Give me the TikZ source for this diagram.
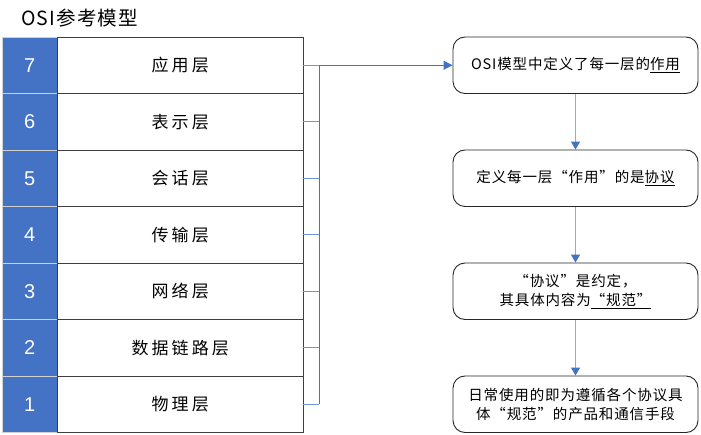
\documentclass[tikz,border=0pt]{standalone}
\usepackage{fontspec}
\setmainfont{Liberation Sans}
\newfontfamily\cjk[LetterSpace=6]{Noto Sans CJK SC}
\newfontfamily\cjkwide[LetterSpace=18]{Noto Sans CJK SC}
\newfontfamily\cjkmid[LetterSpace=6]{Noto Sans CJK SC}
\usetikzlibrary{arrows.meta}
\definecolor{osiblue}{HTML}{4472C4}
\definecolor{lightblue}{HTML}{8FAADC}
\definecolor{stubblue}{HTML}{7096D6}
\definecolor{boxgray}{HTML}{3F3F3F}
\tikzset{
  numbox/.style={minimum width=55.5pt, minimum height=56.5pt, inner sep=0pt, fill=osiblue, draw=gray!35, line width=0.8pt, text=white, font=\fontsize{20}{20}\selectfont},
  layerbox/.style={minimum width=245.5pt, minimum height=56.5pt, inner sep=0pt, draw=boxgray, line width=0.9pt, font=\cjkwide\fontsize{17}{17}\selectfont},
  notebox/.style={minimum width=245pt, minimum height=56.5pt, inner sep=0pt, draw=black!85, line width=0.9pt, rounded corners=12pt, align=center, font=\cjkmid\fontsize{14.5}{19}\selectfont},
  bus/.style={draw=osiblue, line width=0.9pt},
  stub/.style={draw=stubblue, line width=0.8pt},
  downarrow/.style={draw=lightblue, line width=1.2pt, -{Triangle[length=8pt,width=9pt,color=osiblue]}},
  mainarrow/.style={draw=osiblue, line width=0.9pt, -{Triangle[length=9pt,width=9pt]}}
}
\begin{document}
\begin{tikzpicture}[x=1pt,y=-1pt]
\useasboundingbox (0,0) rectangle (701,435);
\node[anchor=west, inner sep=0pt, font=\cjk\fontsize{19.5}{20}\selectfont] (title) at (21,18) {OSI参考模型};
% rows
\node[numbox] (n7) at (29.75,65.25) {7};
\node[numbox] (n6) at (29.75,121.75) {6};
\node[numbox] (n5) at (29.75,178.25) {5};
\node[numbox] (n4) at (29.75,234.75) {4};
\node[numbox] (n3) at (29.75,291.25) {3};
\node[numbox] (n2) at (29.75,347.75) {2};
\node[numbox] (n1) at (29.75,404.25) {1};
\node[layerbox] (l7) at (180.25,65.25) {应用层};
\node[layerbox] (l6) at (180.25,121.75) {表示层};
\node[layerbox] (l5) at (180.25,178.25) {会话层};
\node[layerbox] (l4) at (180.25,234.75) {传输层};
\node[layerbox] (l3) at (180.25,291.25) {网络层};
\node[layerbox] (l2) at (180.25,347.75) {数据链路层};
\node[layerbox] (l1) at (180.25,404.25) {物理层};
% right notes
\node[notebox] (r1) at (575.5,65.25) {OSI模型中定义了每一层的\underline{作用}};
\node[notebox] (r2) at (575.5,178.25) {定义每一层“作用”的是\underline{协议}};
\node[notebox] (r3) at (575.5,291.25) {“协议”是约定，\\其具体内容为\underline{“规范”}};
\node[notebox] (r4) at (575.5,404.25) {日常使用的即为遵循各个协议具\\体“规范”的产品和通信手段};
% bus
\coordinate (b7) at (319,65.25);
\coordinate (b1) at (319,404.25);
\foreach \k in {7,6,5,4,3,2,1} {\draw[stub] (l\k.east) -- (l\k.east -| b7);}
\draw[bus] (b7) -- (b1);
\draw[mainarrow] (b7) -- (r1.west);
\draw[downarrow] (r1) -- (r2);
\draw[downarrow] (r2) -- (r3);
\draw[downarrow] (r3) -- (r4);
\end{tikzpicture}
\end{document}
